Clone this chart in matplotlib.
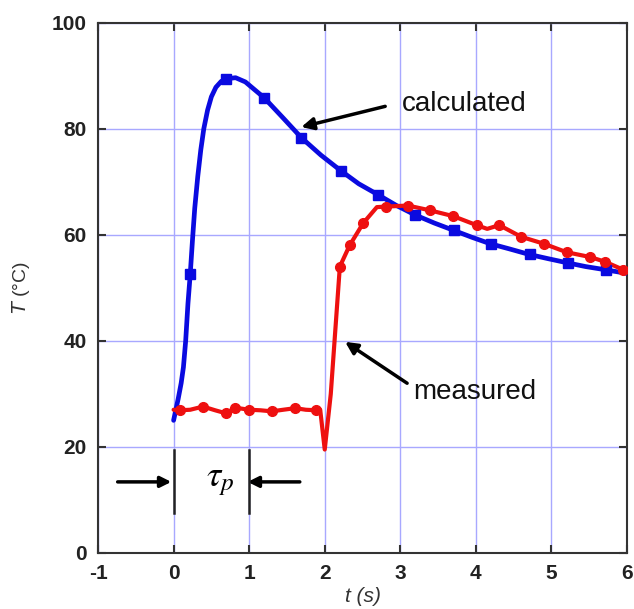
"""Calculated vs measured temperature response."""

import matplotlib
matplotlib.use("Agg")
import matplotlib.pyplot as plt

plt.rcParams["font.family"] = ["Liberation Sans", "DejaVu Sans"]
plt.rcParams["axes.unicode_minus"] = False

# calculated curve (blue)
calc_t = [0.0, 0.06, 0.10, 0.13, 0.16, 0.19, 0.22, 0.25, 0.28, 0.32, 0.36, 0.40,
          0.45, 0.50, 0.56, 0.63, 0.70, 0.82, 0.95, 1.05, 1.20, 1.45, 1.69, 1.95,
          2.21, 2.45, 2.71, 2.95, 3.20, 3.45, 3.71, 3.95, 4.19, 4.45, 4.70, 4.95,
          5.21, 5.45, 5.71, 6.00]
calc_T = [25.0, 29.0, 32.0, 35.0, 40.0, 47.0, 52.5, 59.0, 65.0, 71.0, 76.0, 80.0,
          83.5, 86.0, 87.8, 88.9, 89.4, 89.6, 88.8, 87.6, 85.8, 82.0, 78.3, 75.0,
          72.1, 69.6, 67.5, 65.5, 63.7, 62.2, 60.8, 59.5, 58.3, 57.3, 56.3, 55.5,
          54.7, 54.0, 53.4, 52.7]
calc_mark_t = [0.22, 0.70, 1.20, 1.69, 2.21, 2.71, 3.20, 3.71, 4.20, 4.71, 5.22, 5.72]
calc_mark_T = [52.5, 89.4, 85.8, 78.3, 72.1, 67.5, 63.7, 60.8, 58.3, 56.4, 54.7, 53.4]

# measured curve (red)
meas_t = [0.0, 0.08, 0.22, 0.39, 0.55, 0.70, 0.81, 1.00, 1.15, 1.30, 1.45, 1.61,
          1.75, 1.89, 1.94, 2.00, 2.08, 2.13, 2.17, 2.20, 2.33, 2.51, 2.69, 2.81,
          3.10, 3.39, 3.70, 4.01, 4.15, 4.31, 4.60, 4.90, 5.20, 5.51, 5.71, 5.95, 6.00]
meas_T = [27.0, 26.9, 27.0, 27.6, 26.9, 26.3, 27.4, 27.0, 26.9, 26.7, 27.0, 27.3,
          27.0, 26.9, 27.0, 19.5, 30.0, 40.0, 48.0, 54.0, 58.0, 62.2, 65.2, 65.3,
          65.5, 64.6, 63.5, 61.8, 61.1, 61.8, 59.6, 58.3, 56.7, 55.8, 54.9, 53.4, 53.2]
meas_mark_t = [0.08, 0.39, 0.70, 0.81, 1.00, 1.30, 1.61, 1.89, 2.20, 2.33, 2.51,
               2.81, 3.10, 3.39, 3.70, 4.01, 4.31, 4.60, 4.90, 5.20, 5.51, 5.71, 5.95]
meas_mark_T = [26.9, 27.6, 26.3, 27.4, 27.0, 26.7, 27.3, 26.9, 54.0, 58.0, 62.2,
               65.3, 65.5, 64.6, 63.5, 61.8, 61.8, 59.6, 58.3, 56.7, 55.8, 54.9, 53.4]

x_ticks = [-1, 0, 1, 2, 3, 4, 5, 6]
y_ticks = [0, 20, 40, 60, 80, 100]

BLUE = "#0a0ae0"
RED = "#ee1010"
GRID = "#a8a8ff"
DARK = "#333333"

fig = plt.figure(figsize=(6.34, 6.09), dpi=100)
ax = fig.add_axes([0.1546, 0.092, 0.8344, 0.871])

ax.plot(calc_t, calc_T, color=BLUE, lw=3.4, solid_joinstyle="round",
        solid_capstyle="round", zorder=3)
ax.plot(calc_mark_t, calc_mark_T, ls="none", marker="s", ms=7.5, color=BLUE, zorder=4)
ax.plot(meas_t, meas_T, color=RED, lw=3.0, solid_joinstyle="round",
        solid_capstyle="round", zorder=3)
ax.plot(meas_mark_t, meas_mark_T, ls="none", marker="o", ms=7, color=RED, zorder=4)

ax.set_xlim(-1, 6)
ax.set_ylim(0, 100)
ax.set_xticks(x_ticks)
ax.set_yticks(y_ticks)
ax.grid(True, color=GRID, lw=1.0)
ax.set_axisbelow(True)
ax.tick_params(direction="in", length=6, width=1.5, color=DARK,
               top=True, right=True, labelsize=15, labelcolor="#222222", pad=8)
for lbl in ax.get_xticklabels() + ax.get_yticklabels():
    lbl.set_fontweight("bold")
for sp in ax.spines.values():
    sp.set_color(DARK)
    sp.set_linewidth(1.5)

ax.set_xlabel("t (s)", fontsize=15, style="italic", color="#333333", labelpad=3)
ax.set_ylabel(r"$\it{T}$ (°C)", fontsize=14, color="#333333", labelpad=14)

# annotations
ax.annotate("", xy=(1.69, 80.3), xytext=(2.80, 84.2),
            arrowprops=dict(arrowstyle="-|>", color="black", lw=2.5,
                            mutation_scale=18, shrinkA=0, shrinkB=0))
ax.text(3.02, 84.6, "calculated", fontsize=20, va="center", ha="left",
        color="#111111")
ax.annotate("", xy=(2.27, 39.8), xytext=(3.09, 32.0),
            arrowprops=dict(arrowstyle="-|>", color="black", lw=2.5,
                            mutation_scale=18, shrinkA=0, shrinkB=0))
ax.text(3.17, 30.3, "measured", fontsize=20, va="center", ha="left",
        color="#111111")

# tau_p marker
for tx in (0, 1):
    ax.plot([tx, tx], [7.5, 19.5], color="#222222", lw=1.8, zorder=5)
ax.annotate("", xy=(-0.03, 13.4), xytext=(-0.74, 13.4),
            arrowprops=dict(arrowstyle="-|>", color="black", lw=2.5,
                            mutation_scale=16, shrinkA=0, shrinkB=0))
ax.annotate("", xy=(0.98, 13.4), xytext=(1.67, 13.4),
            arrowprops=dict(arrowstyle="-|>", color="black", lw=2.5,
                            mutation_scale=16, shrinkA=0, shrinkB=0))
ax.text(0.62, 13.6, r"$\tau_p$", fontsize=26, ha="center", va="center",
        math_fontfamily="stix")

fig.savefig("out.png", dpi=100)
